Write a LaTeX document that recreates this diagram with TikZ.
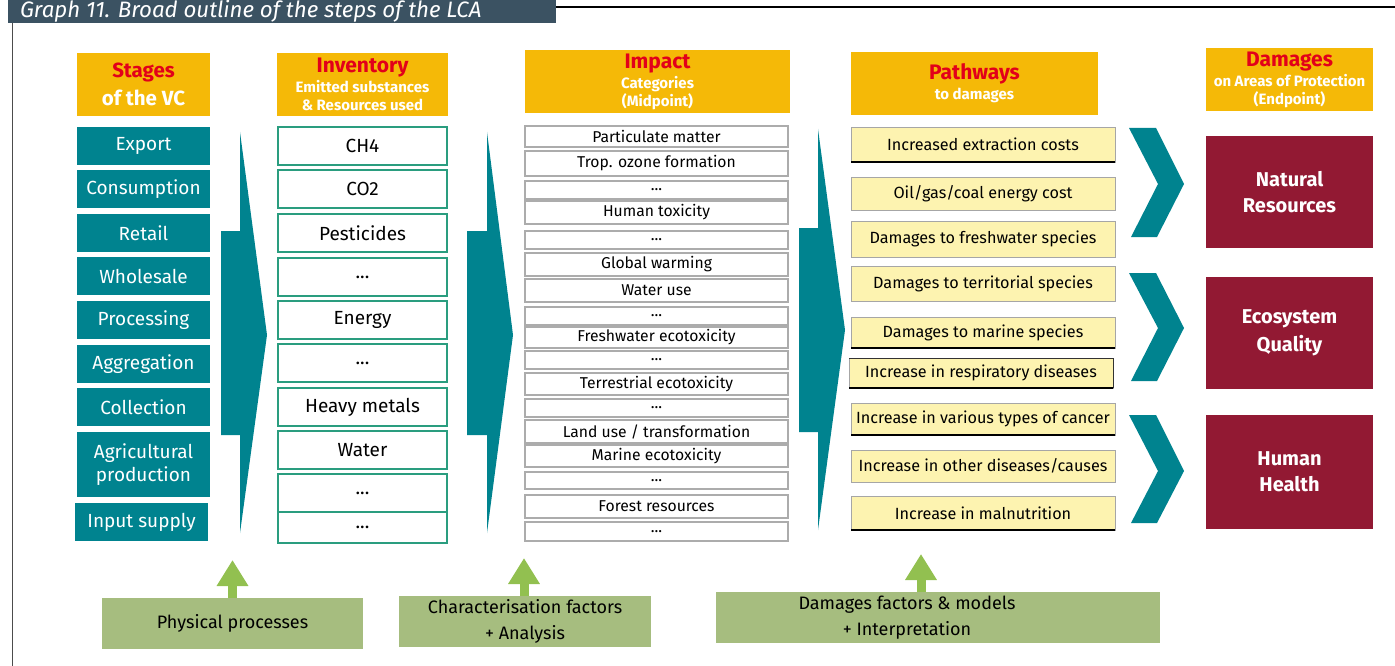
\documentclass[tikz,border=0pt]{standalone}
\usepackage{fontspec}
\setmainfont{Fira Sans}
\usetikzlibrary{arrows.meta}
\definecolor{tealA}{RGB}{0,131,143}
\definecolor{goldA}{RGB}{245,185,7}
\definecolor{hred}{RGB}{226,0,26}
\definecolor{dredA}{RGB}{146,25,51}
\definecolor{pyel}{RGB}{253,243,176}
\definecolor{gbox}{RGB}{166,189,127}
\definecolor{garr}{RGB}{146,192,80}
\definecolor{tbar}{RGB}{59,82,98}
\definecolor{invb}{RGB}{42,157,127}
\newcommand\BX[7]{\node[#2,anchor=north west,minimum width=#5pt-#3pt,minimum height=#6pt-#4pt] (#1) at (#3,#4) {#7};}
\newcommand\fs[1]{\fontsize{#1}{#1}\selectfont}
\begin{document}
\begin{tikzpicture}[x=1pt,y=-1pt,
  every node/.style={inner sep=0pt,outer sep=0pt},
  hdr/.style={fill=goldA,align=center,font=\bfseries\fontsize{15}{19}\selectfont},
  stagebox/.style={fill=tealA,text=white,align=center,font=\fs{19}},
  invbox/.style={fill=white,draw=invb,line width=1.2pt,font=\fs{19}},
  impbox/.style={fill=white,draw=gray!65,line width=1.2pt,font=\fs{15.7}},
  pathbox/.style={fill=pyel,draw=gray!70,line width=0.9pt,font=\fs{16.2}},
  dambox/.style={fill=dredA,text=white,align=center,font=\fs{20}\bfseries},
  grbox/.style={fill=gbox,align=center,font=\fs{18}},
  bigarrow/.style={fill=tealA},
  garrow/.style={draw=garr,line width=9pt,-{Triangle[length=26pt,width=30pt]}}]
\useasboundingbox (0,0) rectangle (1395,666);
% title
\BX{title}{fill=tbar}{8}{0}{556}{23}{}
\node[anchor=west,text=white,font=\fs{22.3}\itshape] (titletext) at (20,11) {Graph 11. Broad outline of the steps of the LCA};
\coordinate (lineA) at (556,7);
\coordinate (lineB) at (1395,7);
\draw[line width=1.2pt] (lineA) -- (lineB);
\coordinate (lineC) at (12,23);
\coordinate (lineD) at (12,666);
\draw[gray!60!black,line width=1pt] (lineC) -- (lineD);
% headers
\BX{h1}{hdr}{77}{53}{210}{116}{{\color{hred}\fs{20.5}Stages}\\[7pt]{\color{white}\fs{20.5}of the VC}}
\BX{h2}{hdr}{277}{53}{448}{116}{{\color{hred}\fs{21}Inventory}\\[1pt]{\color{white}\fs{15}Emitted substances}\\[-1pt]{\color{white}\fs{15}\& Resources used}}
\BX{h3}{hdr}{525}{50}{790}{113}{{\color{hred}\fs{21}Impact}\\[1pt]{\color{white}\fs{15}Categories}\\[-1pt]{\color{white}\fs{15}(Midpoint)}}
\BX{h4}{hdr}{851}{52}{1098}{115}{{\color{hred}\fs{21}Pathways}\\[1pt]{\color{white}\fs{15}to damages}}
\BX{h5}{hdr}{1206}{48}{1373}{111}{{\color{hred}\fs{21}Damages}\\[1pt]{\color{white}\fs{15}on Areas of Protection}\\[-1pt]{\color{white}\fs{15}(Endpoint)}}
% stages
\BX{s1}{stagebox}{77}{127}{210}{165}{Export}
\BX{s2}{stagebox}{77}{170}{210}{208}{Consumption}
\BX{s3}{stagebox}{77}{214}{210}{252}{Retail}
\BX{s4}{stagebox}{77}{257}{210}{295}{Wholesale}
\BX{s5}{stagebox}{77}{301}{210}{339}{Processing}
\BX{s6}{stagebox}{77}{345}{210}{383}{Aggregation}
\BX{s7}{stagebox}{77}{388}{210}{426}{Collection}
\BX{s8}{stagebox}{77}{432}{210}{497}{Agricultural\\[4pt]production}
\BX{s9}{stagebox}{75}{503}{208}{541}{Input supply}
% big arrows
\fill[bigarrow] (221,231) -- (240,231) -- (240,132) -- (267,335) -- (240,533) -- (240,435) -- (221,435) -- cycle;
\fill[bigarrow] (467,231) -- (487,231) -- (487,132) -- (513,335) -- (487,533) -- (487,435) -- (467,435) -- cycle;
\fill[bigarrow] (799,228) -- (818,228) -- (818,129) -- (845,330) -- (818,530) -- (818,432) -- (799,432) -- cycle;
% inventory
\BX{i1}{invbox}{278}{127}{447}{165}{CH4}
\BX{i2}{invbox}{278}{170}{447}{208}{CO2}
\BX{i3}{invbox}{278}{214}{447}{252}{Pesticides}
\BX{i4}{invbox}{278}{258}{447}{296}{...}
\BX{i5}{invbox}{278}{301}{447}{339}{Energy}
\BX{i6}{invbox}{278}{344}{447}{382}{...}
\BX{i7}{invbox}{278}{388}{447}{426}{Heavy metals}
\BX{i8}{invbox}{278}{431}{447}{469}{Water}
\BX{i9}{invbox}{278}{474}{447}{512}{...}
\BX{i10}{invbox}{278}{512}{447}{543}{...}
% impact
\BX{m1}{impbox}{525}{126}{788}{147}{Particulate matter}
\BX{m2}{impbox}{525}{151}{788}{176}{Trop. ozone formation}
\BX{m3}{impbox}{525}{181}{788}{199}{...}
\BX{m4}{impbox}{525}{201}{788}{224}{Human toxicity}
\BX{m5}{impbox}{525}{231}{788}{249}{...}
\BX{m6}{impbox}{525}{253}{788}{276}{Global warming}
\BX{m7}{impbox}{525}{279}{788}{302}{Water use}
\BX{m8}{impbox}{525}{307}{788}{325}{...}
\BX{m9}{impbox}{525}{327}{788}{348}{Freshwater ecotoxicity}
\BX{m10}{impbox}{525}{351}{788}{369}{...}
\BX{m11}{impbox}{525}{373}{788}{395}{Terrestrial ecotoxicity}
\BX{m12}{impbox}{525}{399}{788}{417}{...}
\BX{m13}{impbox}{525}{420}{788}{443}{Land use / transformation}
\BX{m14}{impbox}{525}{445}{788}{467}{Marine ecotoxicity}
\BX{m15}{impbox}{525}{472}{788}{489}{...}
\BX{m16}{impbox}{525}{495}{788}{518}{Forest resources}
\BX{m17}{impbox}{525}{522}{788}{541}{...}
% pathways
\BX{p1}{pathbox}{851}{127}{1115}{162}{Increased extraction costs}
\BX{p2}{pathbox}{851}{177}{1115}{210}{Oil/gas/coal energy cost}
\BX{p3}{pathbox}{851}{221}{1115}{257}{Damages to freshwater species}
\BX{p4}{pathbox}{851}{266}{1115}{301}{Damages to territorial species}
\BX{p5}{pathbox}{851}{317}{1115}{348}{Damages to marine species}
\BX{p6}{pathbox}{849}{358}{1113}{388}{Increase in respiratory diseases}
\BX{p7}{pathbox}{851}{403}{1115}{435}{Increase in various types of cancer}
\BX{p8}{pathbox}{851}{450}{1115}{482}{Increase in other diseases/causes}
\BX{p9}{pathbox}{851}{496}{1115}{530}{Increase in malnutrition}
\foreach \p in {p1,p5,p6,p7,p9}{\draw[black,line width=1.2pt] (\p.south west) -- (\p.south east);}
\draw[black!80,line width=1pt] (p6.north west) -- (p6.north east) -- (p6.south east);
% chevrons
\fill[bigarrow] (1129,128) -- (1156,128) -- (1184,184) -- (1157,237) -- (1131,237) -- (1158,184) -- cycle;
\fill[bigarrow] (1129,273) -- (1156,273) -- (1184,328) -- (1157,381) -- (1131,381) -- (1158,328) -- cycle;
\fill[bigarrow] (1129,415) -- (1156,415) -- (1184,471) -- (1157,523) -- (1131,523) -- (1158,471) -- cycle;
% damages
\BX{d1}{dambox}{1206}{136}{1373}{248}{Natural\\[6pt]Resources}
\BX{d2}{dambox}{1206}{277}{1373}{389}{Ecosystem\\[6pt]Quality}
\BX{d3}{dambox}{1206}{415}{1373}{529}{Human\\[6pt]Health}
% bottom
\BX{g1}{grbox}{102}{598}{363}{649}{Physical processes}
\BX{g2}{grbox}{399}{596}{651}{647}{Characterisation factors\\[8pt]+ Analysis}
\BX{g3}{grbox,label={[font=\fs{18},align=center,xshift=-31pt]center:Damages factors \& models\\[8pt]+ Interpretation}}{716}{592}{1160}{643}{}
\coordinate (t1) at (232.5,560);
\coordinate (t2) at (524,558);
\coordinate (t3) at (921,554);
\draw[garrow] (g1.north -| t1) -- (t1);
\draw[garrow] (g2.north -| t2) -- (t2);
\draw[garrow] (g3.north -| t3) -- (t3);
\end{tikzpicture}
\end{document}
